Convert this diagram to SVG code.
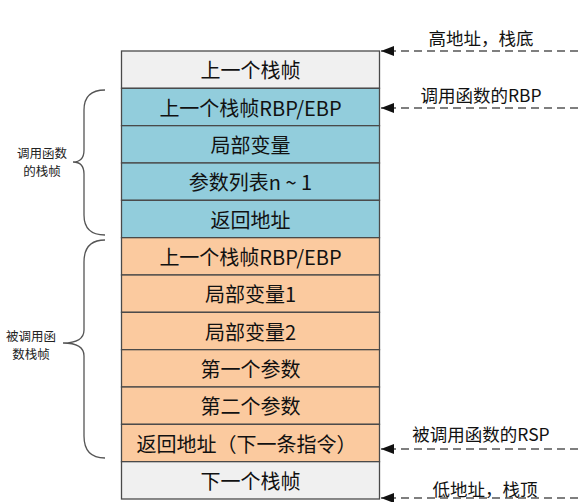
<svg xmlns="http://www.w3.org/2000/svg" width="578" height="502" viewBox="0 0 578 502">
<style>
.row{stroke:#4a4a4a;stroke-width:1.3}
.g{fill:#f0f0f0}.b{fill:#92cddc}.o{fill:#fbca9f}
.t{font-family:"Noto Sans CJK SC","Noto Sans",sans-serif;font-size:20px;fill:#111;text-anchor:middle;dominant-baseline:central}
.r{font-family:"Noto Sans CJK SC","Noto Sans",sans-serif;font-size:17.5px;fill:#111;text-anchor:middle;dominant-baseline:central}
.l{font-family:"Noto Sans CJK SC","Noto Sans",sans-serif;font-size:12.5px;fill:#222;text-anchor:middle;dominant-baseline:central}
.a{stroke:#555;stroke-width:1.5;stroke-dasharray:8 5;fill:none}
.br{stroke:#555;stroke-width:1.3;fill:none}
</style>
<defs>
<marker id="ah" markerWidth="14" markerHeight="10" refX="13" refY="5" orient="auto" markerUnits="userSpaceOnUse">
<path d="M0,0 L13,5 L0,10 Z" fill="#111"/>
</marker>
</defs>
<g id="stack">
<g id="n1"><rect class="row g" x="121.5" y="51" width="258" height="37.33"/><text class="t" x="250.5" y="69.7">上一个栈帧</text></g>
<g id="n2"><rect class="row b" x="121.5" y="88.33" width="258" height="37.33"/><text class="t" x="250.5" y="107">上一个栈帧RBP/EBP</text></g>
<g id="n3"><rect class="row b" x="121.5" y="125.67" width="258" height="37.33"/><text class="t" x="250.5" y="144.3">局部变量</text></g>
<g id="n4"><rect class="row b" x="121.5" y="163" width="258" height="37.33"/><text class="t" x="250.5" y="181.7">参数列表n ~ 1</text></g>
<g id="n5"><rect class="row b" x="121.5" y="200.33" width="258" height="37.33"/><text class="t" x="250.5" y="219">返回地址</text></g>
<g id="n6"><rect class="row o" x="121.5" y="237.67" width="258" height="37.33"/><text class="t" x="250.5" y="256.3">上一个栈帧RBP/EBP</text></g>
<g id="n7"><rect class="row o" x="121.5" y="275" width="258" height="37.33"/><text class="t" x="250.5" y="293.7">局部变量1</text></g>
<g id="n8"><rect class="row o" x="121.5" y="312.33" width="258" height="37.33"/><text class="t" x="250.5" y="331">局部变量2</text></g>
<g id="n9"><rect class="row o" x="121.5" y="349.67" width="258" height="37.33"/><text class="t" x="250.5" y="368.3">第一个参数</text></g>
<g id="n10"><rect class="row o" x="121.5" y="387" width="258" height="37.33"/><text class="t" x="250.5" y="405.7">第二个参数</text></g>
<g id="n11"><rect class="row o" x="121.5" y="424.33" width="258" height="37.33"/><text class="t" x="246.5" y="443">返回地址（下一条指令）</text></g>
<g id="n12"><rect class="row g" x="121.5" y="461.67" width="258" height="37.33"/><text class="t" x="250.5" y="480.3">下一个栈帧</text></g>
</g>
<g id="braces">
<path class="br" d="M105,90 Q84,90 84,110 L84,150 Q84,162 73,162 Q84,162 84,174 L84,215 Q84,235 105,235"/>
<path class="br" d="M105,240 Q84,240 84,262 L84,330 Q84,343 63,343 Q84,343 84,356 L84,436 Q84,458 105,458"/>
</g>
<g id="labels">
<text class="l" x="42" y="152.5">调用函数</text>
<text class="l" x="42" y="170.5">的栈帧</text>
<text class="l" x="31" y="335">被调用函</text>
<text class="l" x="31" y="353">数栈帧</text>
<text class="r" x="481" y="37">高地址，栈底</text>
<text class="r" x="481" y="94">调用函数的RBP</text>
<text class="r" x="481" y="433">被调用函数的RSP</text>
<text class="r" x="485" y="488">低地址，栈顶</text>
</g>
<g id="connectors">
<line class="a" x1="578" y1="51" x2="381" y2="51" marker-end="url(#ah)"/>
<line class="a" x1="578" y1="108" x2="381" y2="108" marker-end="url(#ah)"/>
<line class="a" x1="578" y1="449" x2="381" y2="449" marker-end="url(#ah)"/>
<line class="a" x1="578" y1="498" x2="381" y2="498" marker-end="url(#ah)"/>
</g>
</svg>
